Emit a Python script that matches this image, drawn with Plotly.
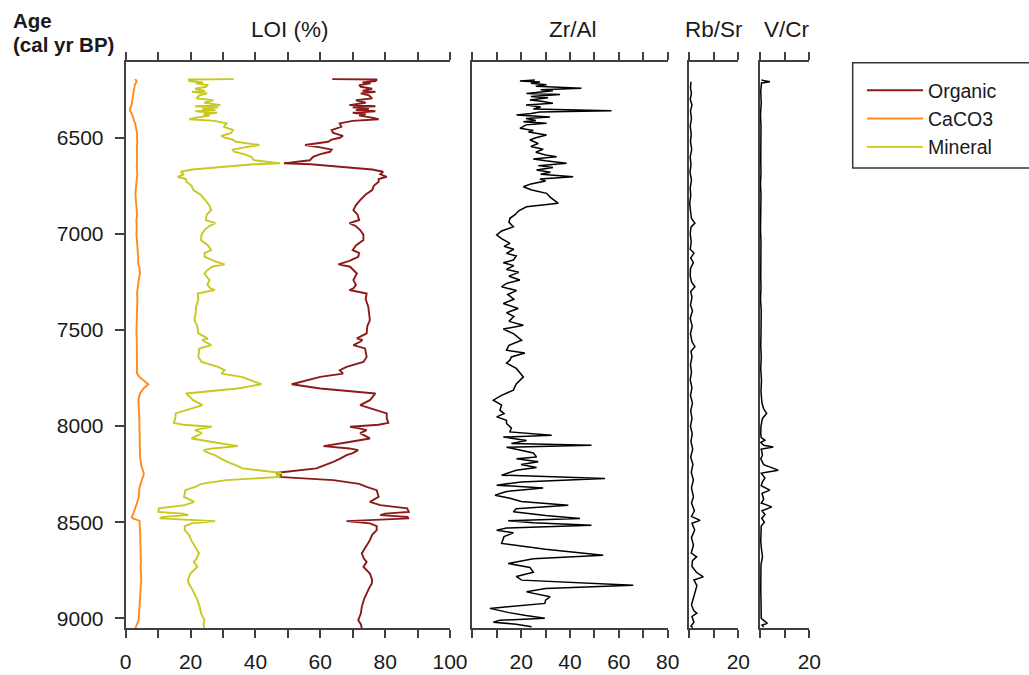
import plotly.graph_objects as go

# ---------------- data ----------------
loi_age = [6195, 6197, 6205, 6212, 6217, 6226, 6235, 6245, 6256, 6261, 6269, 6280, 6295, 6305,
           6318, 6330, 6336, 6342, 6350, 6356, 6362, 6370, 6378, 6385, 6395, 6404, 6412, 6425,
           6443, 6460, 6475, 6490, 6500, 6510, 6521, 6530, 6538, 6550, 6562, 6573, 6585, 6599,
           6617, 6625, 6633, 6638, 6650, 6665, 6677, 6690, 6703, 6715, 6729, 6750, 6772, 6795,
           6824, 6850, 6876, 6900, 6928, 6944, 6960, 6980, 7004, 7032, 7060, 7084, 7100, 7119,
           7140, 7159, 7171, 7190, 7206, 7240, 7265, 7284, 7292, 7310, 7340, 7379, 7410, 7449,
           7480, 7518, 7544, 7552, 7561, 7579, 7596, 7620, 7640, 7666, 7680, 7692, 7709, 7727,
           7744, 7760, 7782, 7804, 7818, 7830, 7850, 7865, 7891, 7905, 7917, 7934, 7960, 7983,
           7993, 8003, 8012, 8021, 8036, 8050, 8064, 8085, 8104, 8116, 8125, 8140, 8151, 8170,
           8186, 8205, 8220, 8241, 8245, 8254, 8264, 8281, 8300, 8316, 8333, 8368, 8394, 8411,
           8428, 8446, 8455, 8463, 8472, 8480, 8487, 8494, 8506, 8520, 8541, 8565, 8593, 8630,
           8662, 8690, 8706, 8732, 8767, 8800, 8818, 8845, 8870, 8900, 8940, 8975, 9009, 9030,
           9050]
organic = [63.7, 77.5, 77.0, 73.0, 75.5, 72.0, 72.5, 76.0, 73.0, 77.0, 72.5, 75.0, 76.0, 71.0,
           74.0, 69.0, 77.0, 70.0, 75.0, 71.0, 77.0, 70.0, 74.0, 72.0, 76.0, 78.0, 70.0, 66.0,
           66.5, 63.5, 64.0, 67.0, 66.0, 63.5, 62.4, 58.0, 55.3, 60.0, 63.5, 63.0, 60.0, 57.8,
           56.8, 53.0, 48.8, 57.0, 66.0, 76.0, 79.4, 78.5, 80.5, 78.0, 78.0, 76.5, 76.0, 74.0,
           72.3, 71.0, 70.2, 71.5, 72.0, 69.0, 71.0, 72.3, 73.3, 73.3, 71.0, 70.0, 72.0, 71.7,
           69.0, 65.6, 69.2, 70.5, 71.3, 70.2, 71.0, 70.2, 69.0, 74.3, 74.0, 74.8, 75.0, 75.3,
           74.5, 74.3, 71.3, 73.0, 72.3, 70.2, 73.8, 74.0, 74.3, 73.3, 70.0, 68.1, 66.0, 67.0,
           60.0, 56.0, 51.2, 60.0, 70.0, 77.0, 76.0, 75.3, 72.3, 75.0, 77.4, 80.5, 80.5, 81.0,
           78.0, 69.2, 72.0, 74.3, 72.3, 74.0, 75.3, 68.0, 61.0, 69.0, 71.7, 70.0, 68.1, 66.0,
           64.0, 61.0, 58.8, 47.5, 46.4, 48.0, 47.0, 64.0, 72.0, 74.3, 77.4, 78.0, 75.3, 78.5,
           86.8, 87.3, 80.0, 78.5, 86.8, 87.3, 76.0, 68.1, 75.3, 77.4, 77.4, 76.0, 75.3, 74.0,
           72.8, 73.5, 74.3, 73.3, 75.3, 76.0, 75.9, 75.0, 74.3, 73.5, 72.8, 72.5, 71.7, 72.5,
           72.8]
caco3 = [3.0, 3.0, 3.4, 3.2, 2.9, 2.8, 2.7, 2.6, 2.5, 2.6, 2.4, 2.3, 2.2, 2.0,
         1.8, 1.8, 1.6, 1.5, 1.4, 1.3, 1.5, 1.8, 2.0, 2.1, 2.3, 2.4, 2.6, 2.9,
         3.2, 3.4, 3.5, 3.5, 3.4, 3.5, 3.6, 3.5, 3.5, 3.4, 3.5, 3.6, 3.5, 3.5,
         3.6, 3.5, 3.6, 3.5, 3.4, 3.5, 3.7, 3.6, 3.5, 3.4, 3.3, 3.2, 3.1, 3.0,
         3.2, 3.3, 3.4, 3.5, 3.3, 3.4, 3.3, 3.4, 3.3, 3.5, 3.6, 3.7, 3.7, 3.9,
         3.8, 3.9, 4.2, 4.4, 4.4, 4.0, 3.8, 3.6, 3.6, 3.5, 3.6, 3.5, 3.4, 3.5,
         3.4, 3.3, 3.4, 3.4, 3.3, 3.4, 3.5, 3.4, 3.3, 3.3, 3.4, 3.4, 3.5, 3.5,
         4.2, 5.5, 7.0, 5.5, 4.8, 4.4, 4.1, 3.9, 4.0, 4.1, 4.0, 4.1, 4.2, 4.2,
         4.3, 4.3, 4.2, 4.3, 4.2, 4.3, 4.4, 4.3, 4.4, 4.3, 4.3, 4.4, 4.4, 4.5,
         4.6, 4.8, 5.1, 5.5, 5.6, 5.5, 5.3, 5.0, 4.6, 4.3, 4.2, 4.0, 3.6, 3.3,
         3.0, 2.6, 2.4, 2.2, 1.8, 2.2, 3.5, 4.3, 4.3, 4.4, 4.4, 4.5, 4.5, 4.6,
         4.6, 4.7, 4.7, 4.6, 4.8, 4.8, 4.7, 4.6, 4.5, 4.5, 4.4, 4.2, 4.0, 3.5,
         3.0]
mineral = [33.3, 19.5, 19.6, 23.8, 21.6, 25.2, 24.8, 21.4, 24.5, 20.4, 25.1, 22.7, 21.8, 27.0,
           24.2, 29.2, 21.4, 28.5, 23.6, 27.7, 21.5, 28.2, 24.0, 25.9, 21.7, 19.6, 27.4, 31.1,
           30.3, 33.1, 32.5, 29.5, 30.6, 33.0, 34.0, 38.5, 41.2, 36.6, 33.0, 33.4, 36.5, 38.7,
           39.6, 43.5, 47.6, 39.5, 30.6, 20.5, 16.9, 17.9, 16.0, 18.6, 18.7, 20.3, 20.9, 23.0,
           24.5, 25.7, 26.4, 25.0, 24.7, 27.6, 25.7, 24.3, 23.4, 23.2, 25.4, 26.3, 24.3, 24.4,
           27.2, 30.5, 26.6, 25.1, 24.3, 25.8, 25.2, 26.2, 27.4, 22.2, 22.4, 21.7, 21.6, 21.2,
           22.1, 22.4, 25.3, 23.6, 24.4, 26.4, 22.7, 22.6, 22.4, 23.4, 26.6, 28.5, 30.5, 29.5,
           35.8, 38.5, 41.8, 34.5, 25.2, 18.6, 19.9, 20.8, 23.7, 20.9, 18.6, 15.4, 15.3, 14.8,
           17.7, 26.5, 23.8, 21.4, 23.5, 21.7, 20.3, 27.7, 34.6, 26.7, 24.0, 25.6, 27.5, 29.5,
           31.4, 34.2, 36.1, 47.0, 48.0, 46.5, 47.7, 31.0, 23.4, 21.4, 18.4, 18.0, 21.1, 18.2,
           10.2, 10.1, 17.6, 19.3, 11.4, 10.5, 20.5, 27.6, 20.4, 18.2, 18.2, 19.5, 20.2, 21.4,
           22.6, 21.8, 21.0, 22.1, 19.9, 19.2, 19.4, 20.4, 21.2, 22.0, 22.8, 23.3, 24.3, 24.0,
           24.2]

zr_age = [6200, 6205, 6210, 6217, 6224, 6232, 6243, 6250, 6256, 6261, 6270, 6275, 6285, 6292,
          6304, 6312, 6320, 6330, 6340, 6350, 6360, 6366, 6374, 6382, 6392, 6400, 6410, 6417,
          6425, 6433, 6451, 6462, 6470, 6486, 6500, 6512, 6530, 6545, 6560, 6575, 6590, 6599,
          6610, 6620, 6633, 6645, 6655, 6668, 6680, 6690, 6703, 6715, 6725, 6740, 6755, 6770,
          6789, 6810, 6841, 6859, 6880, 6900, 6919, 6940, 6963, 6985, 7006, 7025, 7049, 7065,
          7080, 7101, 7115, 7136, 7150, 7165, 7185, 7200, 7220, 7240, 7258, 7275, 7295, 7315,
          7340, 7362, 7388, 7410, 7430, 7455, 7475, 7495, 7520, 7553, 7580, 7605, 7620, 7640,
          7657, 7672, 7700, 7744, 7780, 7813, 7840, 7865, 7890, 7917, 7935, 7952, 7970, 7986,
          8010, 8030, 8047, 8057, 8075, 8090, 8099, 8110, 8125, 8140, 8160, 8170, 8185, 8200,
          8215, 8230, 8255, 8272, 8290, 8307, 8322, 8340, 8359, 8375, 8392, 8411, 8430, 8445,
          8465, 8480, 8492, 8503, 8515, 8530, 8541, 8555, 8575, 8610, 8640, 8671, 8690, 8714,
          8735, 8760, 8782, 8801, 8827, 8845, 8862, 8888, 8905, 8922, 8948, 8970, 8985, 8992,
          8999, 9010, 9020, 9030, 9044]
zr_al = [25.6, 19.5, 27.7, 24.0, 30.4, 26.0, 44.7, 28.0, 33.0, 29.0, 22.2, 35.9, 24.0, 31.0,
         23.6, 29.0, 33.0, 22.0, 28.0, 25.0, 57.0, 27.7, 24.0, 18.1, 31.8, 22.0, 26.0, 20.9,
         30.4, 22.0, 19.5, 25.0, 23.0, 30.4, 26.0, 23.6, 27.0, 24.0, 29.0, 26.0, 30.0, 34.5,
         25.0, 30.0, 38.6, 27.0, 33.0, 26.3, 32.0, 28.0, 41.3, 27.7, 30.0, 24.0, 20.9, 24.0,
         30.4, 32.0, 35.2, 22.2, 19.0, 17.5, 15.4, 15.0, 16.8, 12.0, 10.0, 12.0, 15.4, 13.0,
         17.0, 14.0, 18.0, 16.8, 12.7, 17.0, 14.0, 19.0, 15.0, 19.5, 14.0, 12.0, 18.1, 14.5,
         17.0, 12.7, 18.8, 14.0, 17.0, 15.0, 20.9, 12.7, 17.0, 20.2, 15.0, 14.0, 21.5, 16.0,
         15.4, 14.0, 18.0, 20.9, 18.0, 16.8, 12.0, 8.6, 12.0, 11.3, 13.0, 10.0, 14.0, 14.0,
         16.0, 15.4, 32.5, 12.7, 22.2, 16.0, 48.8, 14.0, 20.0, 25.0, 26.3, 18.1, 27.0, 20.0,
         26.3, 18.0, 12.0, 54.3, 20.0, 10.0, 29.0, 14.0, 9.3, 15.4, 20.0, 39.3, 18.0, 16.8,
         30.0, 44.1, 14.7, 25.0, 48.8, 14.0, 10.0, 16.8, 13.0, 12.0, 30.0, 53.6, 25.0, 14.7,
         23.6, 25.0, 18.0, 20.2, 65.9, 30.0, 22.2, 31.8, 30.0, 29.7, 7.2, 15.0, 22.0, 26.3,
         29.7, 11.3, 8.6, 18.0, 24.3]

rb_age = [6209, 6240, 6270, 6300, 6330, 6360, 6400, 6440, 6480, 6520, 6560, 6600, 6640, 6680,
          6720, 6760, 6800, 6840, 6880, 6920, 6944, 6965, 7000, 7040, 7080, 7100, 7125, 7150,
          7180, 7220, 7250, 7275, 7300, 7330, 7370, 7400, 7440, 7480, 7520, 7560, 7587, 7610,
          7640, 7680, 7720, 7760, 7800, 7840, 7880, 7920, 7960, 8000, 8040, 8080, 8120, 8160,
          8200, 8240, 8280, 8320, 8368, 8400, 8440, 8470, 8490, 8505, 8540, 8580, 8620, 8660,
          8680, 8700, 8730, 8760, 8784, 8800, 8830, 8870, 8900, 8930, 8960, 8973, 8990, 9020,
          9040, 9048]
rb_sr = [0.8, 0.6, 1.0, 0.5, 1.2, 0.6, 1.0, 0.5, 0.9, 0.6, 1.1, 0.5, 0.8, 0.4,
         1.0, 0.5, 0.7, 0.3, 0.6, 1.0, 2.4, 0.8, 0.5, 0.9, 0.5, 2.0, 0.7, 1.8,
         0.6, 0.5, 1.0, 2.4, 0.7, 1.2, 0.6, 1.4, 0.5, 1.3, 0.6, 1.2, 2.4, 0.8,
         1.2, 0.6, 1.0, 0.5, 1.2, 0.6, 1.4, 0.7, 1.2, 0.6, 1.3, 0.8, 1.5, 0.7,
         1.6, 0.9, 1.8, 1.0, 1.8, 1.0, 2.2, 1.0, 4.5, 1.2, 2.3, 1.0, 1.8, 0.9,
         3.1, 1.4, 1.2, 3.0, 5.8, 2.0, 3.2, 2.4, 1.5, 1.0, 2.0, 3.2, 1.2, 2.0,
         0.8, 1.5]

vcr_age = [6200, 6209, 6215, 6260, 6320, 6380, 6440, 6500, 6560, 6620, 6680, 6740, 6800, 6860,
           6920, 6980, 7040, 7100, 7160, 7220, 7280, 7340, 7400, 7460, 7520, 7580, 7640, 7700,
           7760, 7820, 7880, 7910, 7934, 7960, 8000, 8040, 8060, 8073, 8085, 8100, 8108, 8120,
           8150, 8170, 8200, 8229, 8245, 8270, 8290, 8310, 8333, 8350, 8380, 8400, 8420, 8440,
           8460, 8480, 8500, 8520, 8560, 8600, 8640, 8680, 8720, 8760, 8800, 8850, 8900, 8950,
           9000, 9026, 9035, 9045]
v_cr = [0.6, 4.0, 0.6, 0.3, 0.5, 0.2, 0.4, 0.3, 0.5, 0.3, 0.4, 0.2, 0.4, 0.3,
        0.5, 0.2, 0.4, 0.3, 0.5, 0.3, 0.4, 0.2, 0.5, 0.3, 0.4, 0.3, 0.5, 0.3,
        0.6, 0.4, 0.8, 1.5, 2.7, 1.0, 0.4, 0.3, 0.5, 2.0, 0.3, 1.5, 5.4, 0.5,
        1.0, 0.3, 1.5, 7.4, 0.5, 2.0, 1.0, 0.5, 4.0, 0.8, 1.5, 0.5, 4.8, 0.8,
        2.0, 0.7, 1.8, 0.5, 0.4, 0.3, 0.6, 1.0, 0.4, 0.3, 0.5, 0.3, 0.4, 0.3,
        0.5, 3.0, 0.8, 1.5]

age_ticks = [6500, 7000, 7500, 8000, 8500, 9000]
loi_ticks = list(range(0, 101, 10))
loi_labels = ["0", "", "20", "", "40", "", "60", "", "80", "", "100"]
zr_ticks = list(range(0, 81, 10))
zr_labels = ["", "", "20", "", "40", "", "60", "", "80"]
small_ticks = [0, 10, 20]
small_labels = ["", "", "20"]

# ---------------- styling ----------------
W, H = 1029, 675
FONT = "Liberation Sans, Arial, sans-serif"
AX = "#404040"
TXT = "#1a1a1a"
C_ORG = "#8B1A1A"
C_CA = "#FF8C1A"
C_MIN = "#C8C81E"

def px_x(p):
    return p / W

def px_y(p):
    return (H - p) / H

ydom = [px_y(628), px_y(62)]
yrange = [9050, 6106]

fig = go.Figure()

fig.add_trace(go.Scatter(x=organic, y=loi_age, mode="lines", name="Organic",
                         line=dict(color=C_ORG, width=1.9), xaxis="x", yaxis="y"))
fig.add_trace(go.Scatter(x=caco3, y=loi_age, mode="lines", name="CaCO3",
                         line=dict(color=C_CA, width=1.9), xaxis="x", yaxis="y"))
fig.add_trace(go.Scatter(x=mineral, y=loi_age, mode="lines", name="Mineral",
                         line=dict(color=C_MIN, width=1.9), xaxis="x", yaxis="y"))
fig.add_trace(go.Scatter(x=zr_al, y=zr_age, mode="lines", showlegend=False,
                         line=dict(color="black", width=1.5), xaxis="x2", yaxis="y2"))
fig.add_trace(go.Scatter(x=rb_sr, y=rb_age, mode="lines", showlegend=False,
                         line=dict(color="black", width=1.5), xaxis="x3", yaxis="y3"))
fig.add_trace(go.Scatter(x=v_cr, y=vcr_age, mode="lines", showlegend=False,
                         line=dict(color="black", width=1.5), xaxis="x4", yaxis="y4"))

def xaxis(dom, rng, ticks, labels, anchor):
    return dict(domain=[px_x(dom[0]), px_x(dom[1])], range=rng, anchor=anchor,
                tickmode="array", tickvals=ticks, ticktext=labels,
                showline=True, linecolor=AX, linewidth=2, mirror="ticks",
                ticks="outside", ticklen=8, tickwidth=2, tickcolor=AX,
                showgrid=False, zeroline=False, automargin=False,
                ticklabelstandoff=6,
                tickfont=dict(family=FONT, size=21, color=TXT))

def yaxis_side(anchor):
    return dict(domain=ydom, range=yrange, anchor=anchor, showline=True, linecolor=AX,
                linewidth=2, ticks="", showticklabels=False, showgrid=False,
                zeroline=False, automargin=False)

fig.update_layout(
    width=W, height=H,
    margin=dict(l=0, r=0, t=0, b=0),
    paper_bgcolor="white", plot_bgcolor="white",
    xaxis=xaxis((125.7, 450.0), [0, 100], loi_ticks, loi_labels, "y"),
    xaxis2=xaxis((472.3, 667.7), [0, 80], zr_ticks, zr_labels, "y2"),
    xaxis3=xaxis((689.0, 738.3), [0, 20], small_ticks, small_labels, "y3"),
    xaxis4=xaxis((760.0, 809.3), [0, 20], small_ticks, small_labels, "y4"),
    yaxis=dict(domain=ydom, range=yrange, anchor="x", showline=True, linecolor=AX,
               linewidth=2, ticks="outside", ticklen=9, tickwidth=2, tickcolor=AX,
               tickmode="array", tickvals=age_ticks, showgrid=False, zeroline=False,
               automargin=False, ticklabelstandoff=7,
               tickfont=dict(family=FONT, size=21, color=TXT)),
    yaxis2=yaxis_side("x2"),
    yaxis3=yaxis_side("x3"),
    yaxis4=yaxis_side("x4"),
    showlegend=True,
    legend=dict(x=px_x(862), y=px_y(71), xanchor="left", yanchor="top",
                bgcolor="rgba(0,0,0,0)", borderwidth=0,
                font=dict(family=FONT, size=19.5, color=TXT),
                itemwidth=56, tracegroupgap=0),
)

# legend frame (extends past the right edge like the reference)
fig.add_shape(type="rect", xref="paper", yref="paper",
              x0=px_x(852.7), x1=px_x(1040), y0=px_y(168), y1=px_y(62.7),
              line=dict(color="#333333", width=1.5), fillcolor="rgba(0,0,0,0)")

titles = [("LOI (%)", 290), ("Zr/Al", 573), ("Rb/Sr", 714), ("V/Cr", 787)]
for text, xc in titles:
    fig.add_annotation(text=text, x=px_x(xc), y=px_y(30), xref="paper", yref="paper",
                       xanchor="center", yanchor="middle", showarrow=False,
                       font=dict(family=FONT, size=22.5, color=TXT))

fig.add_annotation(text="<b>Age</b>", x=px_x(11), y=px_y(20), xref="paper", yref="paper",
                   xanchor="left", yanchor="middle", showarrow=False,
                   font=dict(family=FONT, size=20.5, color=TXT))
fig.add_annotation(text="<b>(cal yr BP)</b>", x=px_x(11), y=px_y(45), xref="paper",
                   yref="paper", xanchor="left", yanchor="middle", showarrow=False,
                   font=dict(family=FONT, size=20.5, color=TXT))

fig.write_html("out.html")
